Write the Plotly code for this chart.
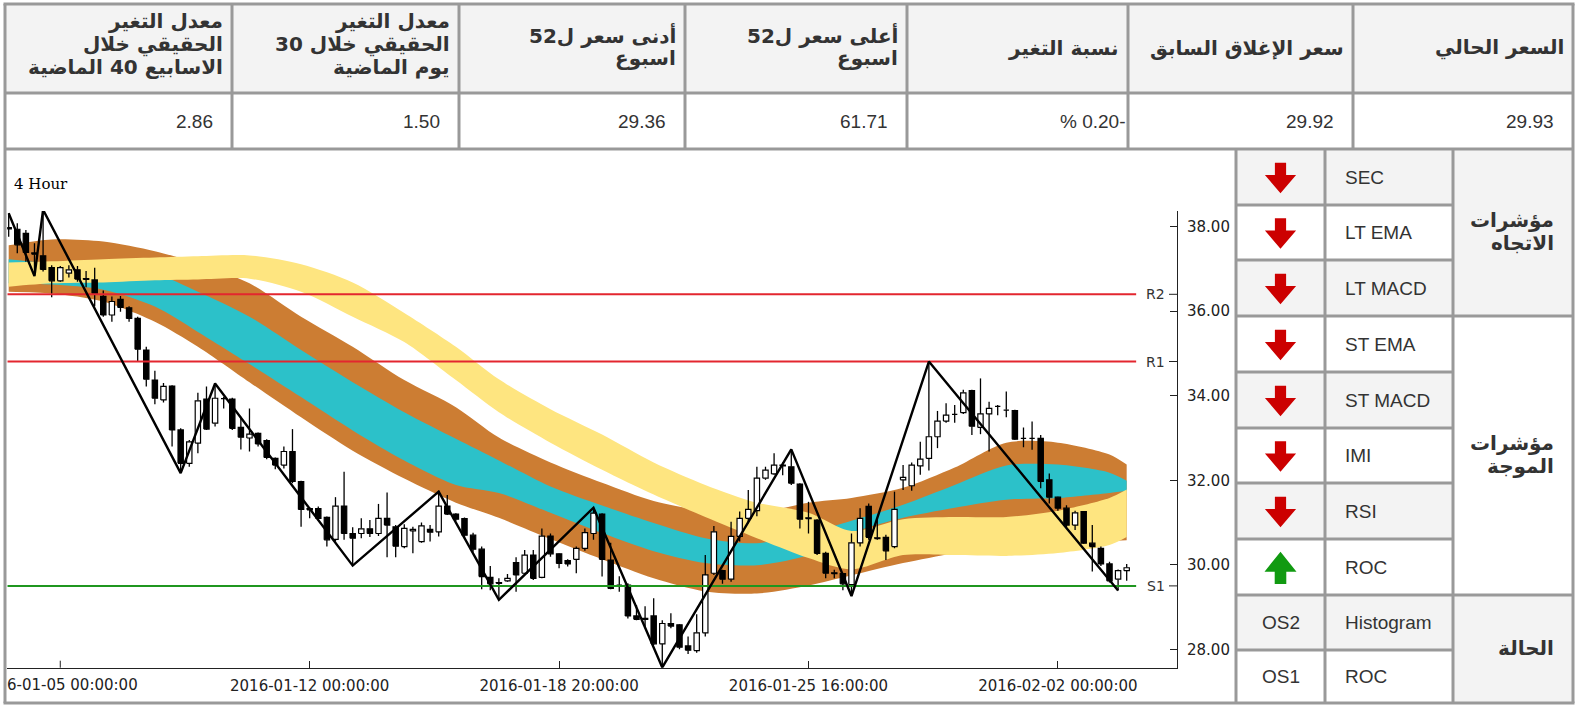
import plotly.graph_objects as go

W, H = 1577, 710

# ---------------- data ----------------
opens = [37.98, 37.94, 37.84, 37.38, 37.31, 37.03, 36.72, 36.90, 36.98, 36.77,
         36.74, 36.35, 35.91, 36.28, 36.08, 35.83, 35.08, 34.37, 33.90, 34.23,
         33.19, 32.40, 32.88, 33.92, 33.35, 33.94, 33.92, 33.25, 33.00, 33.11,
         32.94, 32.52, 32.36, 32.68, 31.97, 31.33, 31.33, 31.12, 30.60, 31.39,
         30.74, 30.74, 30.85, 30.74, 31.10, 30.90, 30.43, 30.80, 30.55, 30.84,
         30.78, 31.39, 31.20, 31.09, 30.70, 30.37, 29.70, 29.58, 29.62, 30.05,
         29.80, 30.23, 29.70, 30.68, 30.26, 30.10, 30.13, 30.39, 30.74, 31.20,
         30.11, 29.53, 29.52, 28.79, 28.73, 28.79, 28.13, 28.61, 28.58, 28.08,
         27.97, 28.39, 29.80, 29.86, 29.66, 30.67, 31.10, 31.28, 32.05, 32.15,
         32.36, 32.32, 31.91, 31.11, 31.06, 30.27, 29.81, 29.79, 29.53, 30.52,
         31.38, 30.64, 30.65, 30.43, 32.01, 31.87, 32.34, 32.52, 33.03, 33.40,
         33.56, 33.60, 34.12, 33.25, 33.57, 33.76, 33.67, 33.65, 33.00, 33.00,
         32.99, 32.01, 31.60, 31.34, 30.94, 31.26, 30.51, 30.39, 30.02, 29.66,
         29.86]
highs = [38.32, 38.08, 37.92, 37.61, 38.40, 37.09, 37.07, 37.09, 37.07, 36.95,
         37.03, 36.49, 36.35, 36.36, 36.12, 35.87, 35.16, 34.59, 34.30, 34.25,
         33.23, 32.95, 34.07, 34.22, 34.29, 33.97, 33.95, 33.50, 33.70, 33.13,
         32.97, 32.54, 32.80, 33.21, 31.99, 31.36, 31.38, 31.14, 31.60, 32.20,
         30.89, 31.10, 31.06, 31.44, 31.71, 30.94, 30.96, 30.90, 31.00, 30.94,
         31.73, 31.65, 31.22, 31.12, 30.76, 30.43, 29.97, 29.68, 29.78, 30.18,
         30.35, 30.35, 30.86, 30.74, 30.27, 30.13, 30.43, 30.86, 31.36, 31.22,
         30.52, 29.73, 29.56, 29.05, 29.02, 29.21, 28.69, 28.85, 28.60, 28.30,
         28.83, 30.23, 30.92, 29.88, 31.02, 31.26, 31.77, 32.32, 32.32, 32.64,
         32.42, 32.73, 31.93, 31.49, 31.08, 30.31, 29.88, 29.80, 30.74, 31.34,
         31.45, 31.06, 30.71, 31.73, 32.36, 32.42, 32.91, 34.81, 33.64, 33.82,
         33.78, 34.14, 34.14, 34.41, 33.86, 33.78, 34.10, 33.67, 33.25, 33.39,
         33.07, 32.16, 31.61, 31.41, 31.28, 31.27, 30.94, 30.43, 30.07, 29.89,
         30.02]
lows = [37.76, 37.37, 37.17, 36.85, 36.94, 36.33, 36.70, 36.80, 36.70, 36.57,
        36.12, 35.87, 35.75, 35.99, 35.75, 34.81, 34.22, 33.80, 33.84, 32.80,
        32.17, 32.32, 32.64, 33.19, 33.27, 33.70, 33.19, 32.73, 32.68, 32.80,
        32.50, 32.26, 32.28, 31.93, 30.90, 31.10, 31.05, 30.43, 30.55, 30.59,
        29.98, 30.63, 30.66, 30.68, 30.18, 30.18, 30.39, 30.27, 30.52, 30.55,
        30.67, 31.18, 31.04, 30.63, 30.31, 29.42, 29.40, 29.17, 29.60, 29.36,
        29.76, 29.64, 29.68, 30.19, 29.92, 29.96, 29.80, 30.33, 30.59, 29.72,
        29.42, 29.36, 28.73, 28.69, 28.50, 28.10, 27.57, 28.50, 28.00, 27.89,
        27.92, 28.30, 29.76, 29.55, 29.60, 30.55, 30.98, 31.15, 32.01, 32.13,
        32.12, 31.89, 30.86, 30.74, 30.23, 29.68, 29.68, 29.40, 29.26, 30.43,
        30.59, 30.59, 30.11, 30.39, 31.77, 31.75, 32.13, 32.23, 32.76, 33.36,
        33.36, 33.57, 33.07, 33.09, 32.68, 33.54, 33.49, 32.95, 32.78, 32.72,
        31.81, 31.45, 31.28, 30.89, 30.82, 30.49, 29.84, 29.97, 29.58, 29.39,
        29.62]
closes = [37.95, 37.57, 37.39, 37.35, 36.99, 36.72, 37.03, 36.98, 36.76, 36.75,
          36.42, 35.91, 36.23, 36.09, 35.83, 35.10, 34.39, 33.94, 34.22, 33.19,
          32.40, 32.91, 33.88, 33.21, 33.94, 33.93, 33.23, 33.02, 33.09, 32.86,
          32.54, 32.36, 32.68, 31.97, 31.31, 31.30, 31.10, 30.59, 31.39, 30.74,
          30.63, 30.85, 30.74, 31.10, 30.94, 30.44, 30.86, 30.84, 30.92, 30.77,
          31.39, 31.20, 31.08, 30.70, 30.37, 29.72, 29.55, 29.56, 29.68, 29.76,
          30.23, 29.68, 30.68, 30.26, 30.03, 30.02, 30.39, 30.76, 31.22, 30.13,
          29.44, 29.52, 28.79, 28.71, 28.71, 28.13, 28.61, 28.55, 28.05, 27.98,
          28.39, 29.76, 30.78, 29.66, 30.67, 31.10, 31.31, 32.05, 32.24, 32.36,
          32.34, 31.93, 31.08, 31.09, 30.27, 29.80, 29.79, 29.55, 30.52, 31.10,
          30.65, 30.62, 30.33, 31.31, 32.07, 32.36, 32.50, 33.03, 33.40, 33.54,
          33.57, 34.07, 33.28, 33.57, 33.70, 33.75, 33.66, 32.97, 32.99, 32.99,
          31.97, 31.60, 31.34, 30.94, 31.23, 30.51, 30.43, 30.02, 29.62, 29.86,
          29.93]

zz_idx = [0, 3, 4, 20, 24, 40, 50, 57, 68, 76, 91, 98, 107, 129]
zz_val = [38.32, 36.83, 38.40, 32.17, 34.29, 29.98, 31.73, 29.17, 31.35, 27.57,
          32.73, 29.26, 34.81, 29.39]

band_idx = [0, 5, 11, 17, 22, 28, 34, 40, 46, 52, 57, 63, 69, 75, 81, 87, 93,
            98, 104, 110, 116, 122, 128, 130]
brown_hi = [37.56, 37.70, 37.65, 37.42, 37.13, 36.66, 35.87, 35.16, 34.37, 33.73,
            33.01, 32.42, 31.94, 31.51, 31.28, 31.23, 31.47, 31.58, 31.82, 32.30,
            32.89, 32.89, 32.61, 32.37]
cyan_hi = [37.23, 37.13, 37.06, 36.89, 36.46, 35.87, 35.08, 34.32, 33.61, 32.98,
           32.47, 31.85, 31.40, 30.99, 30.63, 30.51, 30.75, 31.04, 31.42, 31.89,
           32.35, 32.37, 32.18, 31.99]
cyan_lo = [36.66, 36.63, 36.51, 36.11, 35.51, 34.75, 33.97, 33.18, 32.47, 31.89,
           31.70, 31.23, 30.75, 30.32, 30.04, 29.99, 30.23, 30.75, 31.11, 31.35,
           31.54, 31.58, 31.70, 31.75]
brown_lo = [36.46, 36.42, 36.23, 35.75, 35.16, 34.32, 33.49, 32.70, 32.04, 31.47,
            31.11, 30.61, 30.13, 29.68, 29.37, 29.32, 29.51, 29.75, 30.04, 30.28,
            30.51, 30.56, 30.56, 30.58]
yellow_hi = [37.15, 37.18, 37.23, 37.27, 37.30, 37.32, 37.11, 36.68, 35.96, 35.16,
             34.39, 33.68, 33.08, 32.42, 31.89, 31.47, 31.23, 30.80, 31.08, 31.13,
             31.13, 31.28, 31.58, 31.78]
yellow_lo = [36.58, 36.66, 36.68, 36.73, 36.75, 36.77, 36.46, 35.87, 35.27, 34.37,
             33.61, 32.89, 32.25, 31.66, 31.13, 30.63, 30.16, 29.89, 30.23, 30.23,
             30.21, 30.28, 30.47, 30.66]

level_names = ["R2", "R1", "S1"]
level_values = [36.40, 34.81, 29.50]
level_colors = ["#e3262f", "#e3262f", "#1f961f"]

x_tick_idx = [35, 64, 93, 122]
x_tick_text = ["2016-01-12 00:00:00", "2016-01-18 20:00:00",
               "2016-01-25 16:00:00", "2016-02-02 00:00:00"]
x_first_tick_idx = 6
x_first_tick_visible = "6-01-05 00:00:00"   # left part of "2016-01-05 00:00:00" is cut by the panel edge
y_tick_vals = [28, 30, 32, 34, 36, 38]
y_tick_text = ["28.00", "30.00", "32.00", "34.00", "36.00", "38.00"]

header_titles = [["معدل التغير", "الحقيقي خلال", "الاسابيع 40 الماضية"],
                 ["معدل التغير", "الحقيقي خلال 30", "يوم الماضية"],
                 ["أدنى سعر ل52", "اسبوع"],
                 ["أعلى سعر ل52", "اسبوع"],
                 ["نسبة التغير"],
                 ["سعر الإغلاق السابق"],
                 ["السعر الحالي"]]
header_values = ["2.86", "1.50", "29.36", "61.71", "% 0.20-", "29.92", "29.93"]

ind_names = ["SEC", "LT EMA", "LT MACD", "ST EMA", "ST MACD", "IMI", "RSI", "ROC",
             "Histogram", "ROC"]
ind_signal = ["down", "down", "down", "down", "down", "down", "down", "up", "OS2", "OS1"]
group_labels = [["مؤشرات", "الاتجاه"], ["مؤشرات", "الموجة"], ["الحالة"]]
group_rows = [(0, 3), (3, 8), (8, 10)]

# ---------------- helpers (page pixel -> paper) ----------------
def px(x):
    return x / W


def py(y):
    return 1 - y / H


fig = go.Figure()


def add_band(lo, hi, color):
    fig.add_trace(go.Scatter(x=band_idx, y=hi, mode="lines",
                             line=dict(width=0, shape="spline", smoothing=0.8),
                             hoverinfo="skip", showlegend=False))
    fig.add_trace(go.Scatter(x=band_idx, y=lo, mode="lines",
                             line=dict(width=0, shape="spline", smoothing=0.8),
                             fill="tonexty", fillcolor=color,
                             hoverinfo="skip", showlegend=False))


add_band(brown_lo, brown_hi, "#cc7d33")
add_band(cyan_lo, cyan_hi, "#2cc1c9")
add_band(yellow_lo, yellow_hi, "#fee580")

# wicks
wx, wy = [], []
for i, (o, h, l, c) in enumerate(zip(opens, highs, lows, closes)):
    top, bot = max(o, c), min(o, c)
    wx += [i, i, None, i, i, None]
    wy += [h, top, None, bot, l, None]
fig.add_trace(go.Scatter(x=wx, y=wy, mode="lines", line=dict(color="black", width=1.3),
                         hoverinfo="skip", showlegend=False))

# bodies
hw = 0.31
for up in (True, False):
    bx, by = [], []
    for i, (o, c) in enumerate(zip(opens, closes)):
        if (c >= o) != up:
            continue
        lo, hi = min(o, c), max(o, c)
        bx += [i - hw, i + hw, i + hw, i - hw, i - hw, None]
        by += [lo, lo, hi, hi, lo, None]
    fig.add_trace(go.Scatter(x=bx, y=by, mode="lines", fill="toself",
                             fillcolor="white" if up else "black",
                             line=dict(color="black", width=1.2),
                             hoverinfo="skip", showlegend=False))

# levels
X0, X1 = -0.16, 135.85
for name, v, col in zip(level_names, level_values, level_colors):
    fig.add_trace(go.Scatter(x=[X0, 131.1], y=[v, v], mode="lines",
                             line=dict(color=col, width=2),
                             hoverinfo="skip", showlegend=False))

# zigzag
fig.add_trace(go.Scatter(x=zz_idx, y=zz_val, mode="lines",
                         line=dict(color="black", width=2.4),
                         hoverinfo="skip", showlegend=False))

shapes = []
annotations = []

BORDER = "#999999"
GRAY = "#f3f3f3"
TXT = "#333333"
AR_FONT = dict(family="DejaVu Sans", size=20, color=TXT, weight="bold")
LAT_FONT = dict(family="Liberation Sans", size=19, color=TXT)
TICK_FONT = dict(family="DejaVu Sans", size=15, color="#222222")


def text_lines(lines, xr, center, spacing, font):
    n = len(lines)
    for k, t in enumerate(lines):
        yy = center + (k - (n - 1) / 2) * spacing
        annotations.append(dict(xref="paper", yref="paper", x=px(xr), y=py(yy),
                                xanchor="right", yanchor="middle", align="right",
                                text=t, showarrow=False, font=font))


# header table
hx = [5, 232, 459, 685, 907, 1128, 1353, 1573]
shapes.append(dict(type="rect", xref="paper", yref="paper", x0=px(5), x1=px(1573),
                   y0=py(93), y1=py(4), fillcolor=GRAY, line_width=0, layer="below"))
centers = {1: 47.5, 2: 46.0, 3: 44.0}
for k in range(7):
    lines = header_titles[k]
    text_lines(lines, hx[k + 1] - 7, centers[len(lines)], 23, AR_FONT)
    vx = hx[k + 1] - 17 if k != 4 else hx[k + 1] - 1
    annotations.append(dict(xref="paper", yref="paper", x=px(vx), y=py(121),
                            xanchor="right", yanchor="middle", align="right",
                            text=header_values[k], showarrow=False, font=LAT_FONT))

# indicator table
ry = [149, 205, 260, 316, 372, 428, 483, 539, 595, 650, 703]
cx = [1236, 1325, 1453, 1573]
for r in range(10):
    if r % 2 == 0:
        shapes.append(dict(type="rect", xref="paper", yref="paper", x0=px(cx[0]), x1=px(cx[2]),
                           y0=py(ry[r + 1]), y1=py(ry[r]), fillcolor=GRAY, line_width=0,
                           layer="below"))
for g, (a, b) in enumerate(group_rows):
    if g != 1:
        shapes.append(dict(type="rect", xref="paper", yref="paper", x0=px(cx[2]), x1=px(cx[3]),
                           y0=py(ry[b]), y1=py(ry[a]), fillcolor=GRAY, line_width=0,
                           layer="below"))
    text_lines(group_labels[g], 1556, (ry[a] + ry[b]) / 2 - 1, 22, AR_FONT)


def arrow_path(cxp, cyp, up):
    if up:
        pts = [(cxp, cyp - 15.3), (cxp + 16, cyp + 4.7), (cxp + 5.8, cyp + 4.7), (cxp + 5.8, cyp + 17),
               (cxp - 5.8, cyp + 17), (cxp - 5.8, cyp + 4.7), (cxp - 16, cyp + 4.7)]
    else:
        pts = [(cxp - 5.6, cyp - 14.3), (cxp + 5.6, cyp - 14.3), (cxp + 5.6, cyp - 2), (cxp + 15.6, cyp - 2),
               (cxp, cyp + 16.3), (cxp - 15.6, cyp - 2), (cxp - 5.6, cyp - 2)]
    return "M " + " L ".join(f"{px(a):.5f},{py(b):.5f}" for a, b in pts) + " Z"


acx = (cx[0] + cx[1]) / 2
for r in range(10):
    cy = (ry[r] + ry[r + 1]) / 2
    sig = ind_signal[r]
    if sig in ("up", "down"):
        col = "#119a11" if sig == "up" else "#cc0000"
        shapes.append(dict(type="path", xref="paper", yref="paper",
                           path=arrow_path(acx, cy, sig == "up"),
                           fillcolor=col, line_width=0, layer="above"))
    else:
        annotations.append(dict(xref="paper", yref="paper", x=px(acx), y=py(cy),
                                xanchor="center", yanchor="middle", text=sig, showarrow=False,
                                font=LAT_FONT))
    annotations.append(dict(xref="paper", yref="paper", x=px(1343), y=py(cy),
                            xanchor="left", yanchor="middle", text=ind_names[r], showarrow=False,
                            font=LAT_FONT))

# level labels
for name, v in zip(level_names, level_values):
    annotations.append(dict(xref="paper", yref="y", x=px(1167), y=v, xanchor="right",
                            yanchor="middle", text=name, showarrow=False,
                            font=dict(family="DejaVu Sans", size=14, color=TXT)))
    shapes.append(dict(type="line", xref="paper", yref="y", x0=px(1169), x1=px(1177),
                       y0=v, y1=v, line=dict(color="#222222", width=1), layer="above"))

# first date tick: mark + the visible (edge-clipped) label
shapes.append(dict(type="line", xref="x", yref="paper", x0=x_first_tick_idx, x1=x_first_tick_idx,
                   y0=py(667.7), y1=py(660.7), line=dict(color="#222222", width=1)))
annotations.append(dict(xref="x", yref="paper", x=x_first_tick_idx, xshift=79.6, y=py(684.5),
                        xanchor="right", yanchor="middle", text=x_first_tick_visible,
                        showarrow=False, font=TICK_FONT))

annotations.append(dict(xref="paper", yref="paper", x=px(12), y=py(184), xanchor="left",
                        yanchor="middle", text="4 Hour", showarrow=False,
                        font=dict(family="DejaVu Serif", size=15, color="black")))


def hline(y, x0, x1):
    shapes.append(dict(type="line", xref="paper", yref="paper", x0=px(x0), x1=px(x1),
                       y0=py(y), y1=py(y), line=dict(color=BORDER, width=3), layer="above"))


def vline(x, y0, y1):
    shapes.append(dict(type="line", xref="paper", yref="paper", x0=px(x), x1=px(x),
                       y0=py(y0), y1=py(y1), line=dict(color=BORDER, width=3), layer="above"))


hline(4, 3.5, 1574.5)
hline(93, 5, 1573)
hline(149, 5, 1573)
hline(703, 3.5, 1574.5)
for x in hx:
    vline(x, 4, 149)
vline(5, 149, 703)
vline(1573, 149, 703)
for x in cx[:3]:
    vline(x, 149, 703)
for y in ry[1:-1]:
    hline(y, cx[0], cx[2])
for y in (316, 595):
    hline(y, cx[2], cx[3])

fig.update_layout(
    width=W, height=H, autosize=False,
    margin=dict(l=0, r=0, t=0, b=0, pad=0),
    paper_bgcolor="white", plot_bgcolor="white",
    showlegend=False,
    shapes=shapes, annotations=annotations,
    xaxis=dict(domain=[px(7.3), px(1177)], range=[X0, X1], showgrid=False, zeroline=False,
               showline=True, linecolor="#222222", linewidth=1,
               ticks="inside", ticklen=7, tickcolor="#222222",
               tickmode="array", tickvals=x_tick_idx, ticktext=x_tick_text,
               tickfont=TICK_FONT, ticklabelstandoff=4),
    yaxis=dict(domain=[py(667.7), py(211)], range=[27.5644, 38.3715], side="right",
               showgrid=False, zeroline=False,
               showline=True, linecolor="#222222", linewidth=1,
               ticks="inside", ticklen=7, tickcolor="#222222",
               tickmode="array", tickvals=y_tick_vals, ticktext=y_tick_text,
               tickfont=TICK_FONT, ticklabelstandoff=6),
)

fig.write_html("out.html")
